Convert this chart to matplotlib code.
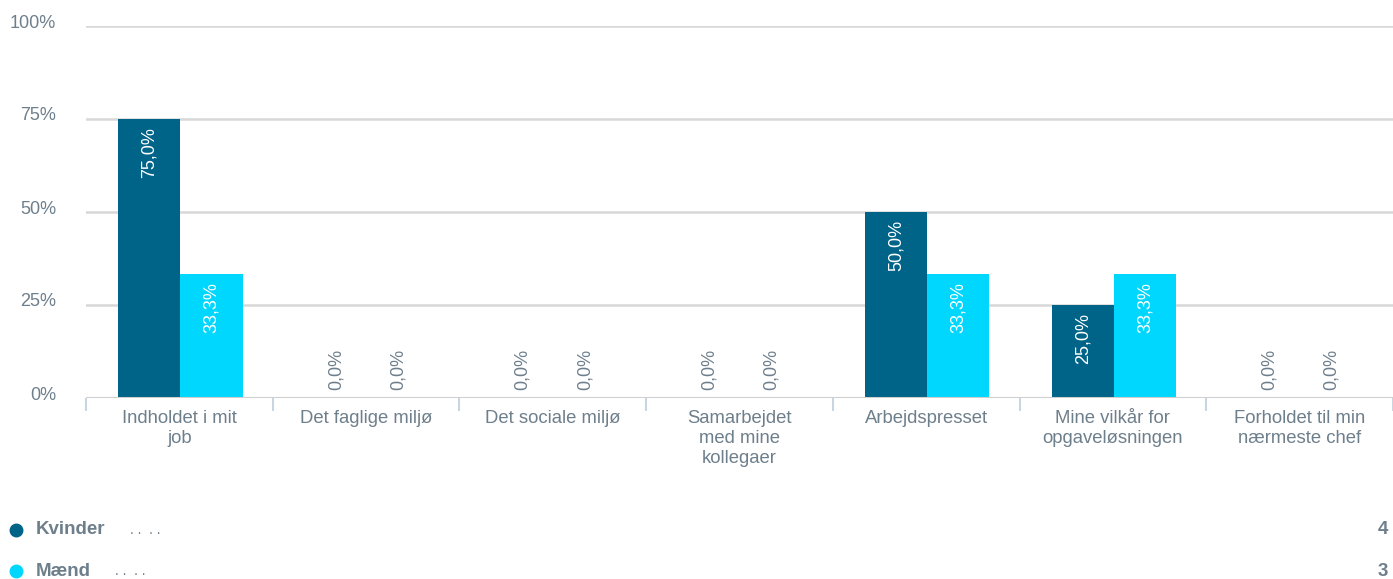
import numpy as np
import matplotlib.pyplot as plt
from matplotlib.lines import Line2D
from matplotlib.transforms import offset_copy

plt.rcParams['font.family'] = ['Liberation Sans', 'DejaVu Sans']

categories = ["Indholdet i mit\njob", "Det faglige miljø", "Det sociale miljø",
              "Samarbejdet\nmed mine\nkollegaer", "Arbejdspresset",
              "Mine vilkår for\nopgaveløsningen", "Forholdet til min\nnærmeste chef"]
kvinder = [75.0, 0.0, 0.0, 0.0, 50.0, 25.0, 0.0]
maend = [33.3, 0.0, 0.0, 0.0, 33.3, 33.3, 0.0]
series_names = ["Kvinder", "Mænd"]
series_counts = [4, 3]
yticks = [0, 25, 50, 75, 100]

dark = "#006489"
light = "#00d7fe"
txt = "#6e7f8c"

fig = plt.figure(figsize=(13.93, 5.79), dpi=100)
ax = fig.add_axes([86/1393, 1 - 398/579, 1 - 86/1393, 372/579])

x = np.arange(len(categories))
w = 1/3
b1 = ax.bar(x - w/2 + 0.005, kvinder, w, color=dark, zorder=3)
b2 = ax.bar(x + w/2 + 0.005, maend, w, color=light, zorder=3)

ax.set_xlim(-0.5, len(categories) - 0.5)
ax.set_ylim(0, 100)

# value labels
for bars, vals in ((b1, kvinder), (b2, maend)):
    for bar, v in zip(bars, vals):
        cx = bar.get_x() + bar.get_width()/2
        lab = f"{v:.1f}%".replace(".", ",")
        if v > 0:
            tr = offset_copy(ax.transData, fig=fig, y=-8, units='dots')
            ax.text(cx, v, lab, rotation=90, ha='center', va='top', color='white',
                    fontsize=13, transform=tr, zorder=4)
        else:
            tr = offset_copy(ax.transData, fig=fig, y=8, units='dots')
            ax.text(cx, 0, lab, rotation=90, ha='center', va='bottom', color=txt,
                    fontsize=13, transform=tr, zorder=4)

# grid and axes
for s in ax.spines.values():
    s.set_visible(False)
ax.set_yticks(yticks)
ax.set_yticklabels([])
for t in yticks[1:]:
    ax.axhline(t, color="#d8d8d8", lw=1.8, zorder=1)
ax.axhline(0, color="#cfcfcf", lw=2.2, zorder=5)
ax.tick_params(axis='y', length=0)
ytr = offset_copy(ax.get_yaxis_transform(), fig=fig, x=-30, y=3, units='dots')
for t in yticks:
    ax.text(0, t, f"{t}%", ha='right', va='center', color=txt, fontsize=13, transform=ytr)

# category boundaries ticks
ax.set_xticks(np.arange(-0.5, len(categories) + 0.5, 1), minor=False)
ax.set_xticklabels([])
ax.tick_params(axis='x', length=9, width=1.5, color="#c9d5e1", direction='out')
xtr = offset_copy(ax.get_xaxis_transform(), fig=fig, y=-12, units='dots')
for i, c in enumerate(categories):
    ax.text(i, 0, c, ha='center', va='top', color=txt, fontsize=13.3,
            linespacing=1.22, transform=xtr)

# legend rows
for name, cnt, col, yy in zip(series_names, series_counts, (dark, light), (530, 571)):
    fy = 1 - yy/579
    fig.add_artist(Line2D([16/1393], [fy], marker='o', markersize=9, color=col,
                          transform=fig.transFigure))
    t = fig.text(36/1393, fy, name, ha='left', va='center', color=txt,
                 fontsize=13.5, fontweight='bold')
    fig.canvas.draw()
    bb = t.get_window_extent()
    fig.text((bb.x1 + 24)/1393, fy, ". .  . .", ha='left', va='center', color=txt, fontsize=10)
    fig.text(1388/1393, fy, str(cnt), ha='right', va='center', color=txt,
             fontsize=13.5, fontweight='bold')

fig.savefig("out.png", dpi=100)
